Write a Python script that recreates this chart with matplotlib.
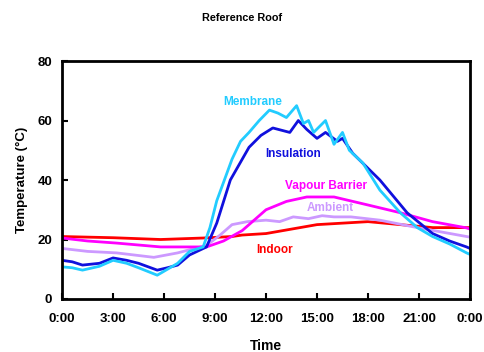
import matplotlib
matplotlib.use("Agg")
import matplotlib.pyplot as plt

plt.rcParams['font.family'] = ['Liberation Sans', 'DejaVu Sans']
plt.rcParams['font.weight'] = 'bold'

# ---- Data (hours since midnight, temperature in C) ----
mem_t = [0, 0.6, 1.2, 2.2, 3, 3.8, 4.5, 5.6, 6.2, 6.8, 7.5, 8.3, 8.7, 9.1, 10, 10.5, 11, 11.6, 12.2, 12.7, 13.2,
         13.8, 14.2, 14.5, 14.8, 15.5, 16, 16.5, 16.9, 17.7, 18.7, 19.9, 20.9, 21.8, 22.8, 23.8, 24]
mem_v = [10.8, 10.5, 9.7, 11, 13, 12, 10.5, 8, 10, 12, 16, 17.5, 24, 33, 47, 53, 56, 60, 63.5, 62.5, 61,
         65, 59, 60, 56, 60, 52, 56, 50, 45.7, 36.6, 29, 24, 21, 18.5, 15.5, 15]

ins_t = [0, 0.6, 1.2, 2.2, 3, 3.8, 4.5, 5.6, 6.2, 6.8, 7.5, 8.5, 9.1, 9.9, 11, 11.7, 12.4, 13.4,
         13.9, 14.4, 15, 15.5, 16.2, 16.5, 17.1, 18.7, 20.3, 21.8, 22.8, 23.8, 24]
ins_v = [13, 12.5, 11.4, 12, 13.8, 13, 12, 9.7, 10.5, 11.4, 14.8, 17.5, 25.5, 40, 51, 55, 57.5, 56,
         60, 57, 54, 56, 53, 54, 49, 40, 29, 22, 19.5, 17.5, 17]

vap_t = [0, 1.5, 3.2, 5.8, 7.5, 8.5, 9.5, 10.6, 12, 13.2, 14.4, 16, 18, 19.9, 21.8, 23.8, 24]
vap_v = [20.5, 19.5, 18.8, 17.5, 17.5, 17.5, 19.5, 23, 30, 32.8, 34.3, 34.3, 31.6, 29, 26, 23.9, 23.5]

amb_t = [0, 1.5, 3.2, 5.4, 6.8, 7.8, 8.5, 9.3, 10, 10.9, 12, 12.8, 13.6, 14.5, 15.3, 16, 17, 18.7, 20.9, 23.8, 24]
amb_v = [17, 16, 15.5, 14, 15.5, 17, 18, 21.5, 25, 26, 26.5, 26, 27.6, 27, 28, 27.6, 27.6, 26.5, 24, 21, 20.8]

ind_t = [0, 3, 5.8, 8.3, 10, 10.6, 12, 15, 18, 19.9, 21.8, 23.8, 24]
ind_v = [21, 20.6, 20, 20.5, 21, 21.5, 22, 25, 26, 25, 24, 24, 24]

xticks = [0, 3, 6, 9, 12, 15, 18, 21, 24]
xtick_labels = ['0:00', '3:00', '6:00', '9:00', '12:00', '15:00', '18:00', '21:00', '0:00']

c_mem = '#22CCFF'
c_ins = '#1010DD'
c_vap = '#FF00FF'
c_amb = '#CC99FF'
c_ind = '#FF0000'

fig = plt.figure(figsize=(4.85, 3.52), dpi=100)
ax = fig.add_axes([0.128, 0.1506, 0.841, 0.676])

lw = 2.0
ax.plot(ind_t, ind_v, color=c_ind, lw=lw)
ax.plot(amb_t, amb_v, color=c_amb, lw=lw)
ax.plot(vap_t, vap_v, color=c_vap, lw=lw)
ax.plot(ins_t, ins_v, color=c_ins, lw=lw)
ax.plot(mem_t, mem_v, color=c_mem, lw=lw)

ax.set_xlim(0, 24)
ax.set_ylim(0, 80)
ax.set_xticks(xticks)
ax.set_xticklabels(xtick_labels)
ax.set_yticks([0, 20, 40, 60, 80])
ax.tick_params(direction='in', length=4, width=1.5, labelsize=9.5)
ax.tick_params(axis='x', pad=10)
ax.tick_params(axis='y', pad=7)
for s in ax.spines.values():
    s.set_linewidth(2)

ax.set_xlabel('Time', fontsize=10, fontweight='bold', labelpad=10)
ax.set_ylabel('Temperature (\u00b0C)', fontsize=9.5, fontweight='bold', labelpad=7)
fig.suptitle('Reference Roof', fontsize=7.8, fontweight='bold', x=0.5, y=0.962)

fs = 8.5
ax.text(11.2, 66.2, 'Membrane', color=c_mem, fontsize=fs, fontweight='bold', ha='center', va='center')
ax.text(13.6, 48.7, 'Insulation', color=c_ins, fontsize=fs, fontweight='bold', ha='center', va='center')
ax.text(15.5, 38, 'Vapour Barrier', color=c_vap, fontsize=fs, fontweight='bold', ha='center', va='center')
ax.text(15.8, 30.6, 'Ambient', color=c_amb, fontsize=fs, fontweight='bold', ha='center', va='center')
ax.text(12.5, 16.5, 'Indoor', color=c_ind, fontsize=fs, fontweight='bold', ha='center', va='center')

fig.savefig('out.png', dpi=100)
